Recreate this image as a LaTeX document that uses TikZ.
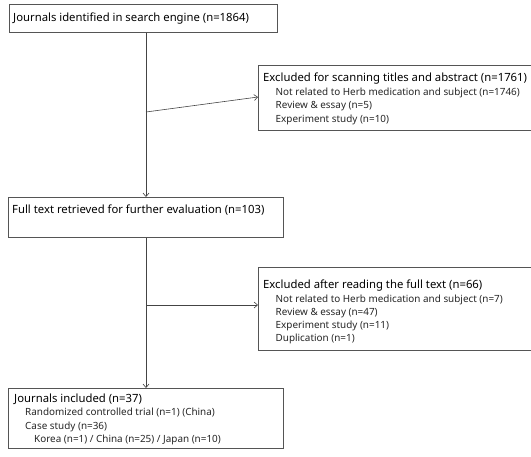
\documentclass[tikz,border=0pt]{standalone}
\usepackage{fontspec}
\setmainfont{Noto Sans}
\usetikzlibrary{arrows.meta}
\definecolor{linec}{HTML}{444444}
\definecolor{boxc}{HTML}{555555}
\begin{document}
\begin{tikzpicture}[x=1pt,y=1pt,
  box/.style={draw=boxc,line width=0.8pt,rectangle,inner sep=0pt,anchor=north west},
  ttl/.style={anchor=base west,inner sep=0pt,font=\fontsize{11.3}{14}\selectfont,text=black},
  sub/.style={anchor=base west,inner sep=0pt,font=\fontsize{9.9}{12}\selectfont,text=black!85},
  conn/.style={draw=linec,line width=0.6pt},
  arr/.style={conn,-{Straight Barb[length=3.5pt,width=6pt]}}]
\useasboundingbox (0,0) rectangle (531,-456);
\begin{scope}
\clip (0,0) rectangle (531,-456);
% boxes
\node[box,minimum width=268,minimum height=28] (b1) at (9,-4) {};
\node[box,minimum width=290,minimum height=65] (b2) at (258,-65) {};
\node[box,minimum width=275,minimum height=40] (b3) at (8,-197) {};
\node[box,minimum width=290,minimum height=83] (b4) at (258,-267) {};
\node[box,minimum width=275,minimum height=60] (b5) at (8,-388) {};
\end{scope}
% texts
\node[ttl] (t1) at (13,-21.5) {Journals identified in search engine (n=1864)};
\node[ttl] (t2) at (263,-81.3) {Excluded for scanning titles and abstract (n=1761)};
\node[sub] (t2a) at (275.5,-95.3) {Not related to Herb medication and subject (n=1746)};
\node[sub] (t2b) at (275.5,-108.7) {Review \& essay (n=5)};
\node[sub] (t2c) at (275.5,-122) {Experiment study (n=10)};
\node[ttl] (t3) at (12,-213) {Full text retrieved for further evaluation (n=103)};
\node[ttl] (t4) at (263,-288.7) {Excluded after reading the full text (n=66)};
\node[sub] (t4a) at (275.5,-302) {Not related to Herb medication and subject (n=7)};
\node[sub] (t4b) at (275.5,-315) {Review \& essay (n=47)};
\node[sub] (t4c) at (275.5,-328) {Experiment study (n=11)};
\node[sub] (t4d) at (275.5,-341) {Duplication (n=1)};
\node[ttl] (t5) at (14,-402) {Journals included (n=37)};
\node[sub] (t5a) at (25,-415.5) {Randomized controlled trial (n=1) (China)};
\node[sub] (t5b) at (25,-429) {Case study (n=36)};
\node[sub] (t5c) at (34,-442.5) {Korea (n=1) / China (n=25) / Japan (n=10)};
% connectors
\coordinate (j1) at (146,-112);
\coordinate (j2) at (146,-305);
\draw[arr] (b1.south -| j1) -- (b3.north -| j1);
\draw[arr] (j1) -- (b2.west |- 0,-97);
\draw[arr] (b3.south -| j2) -- (b5.north -| j2);
\draw[arr] (j2) -- (j2 -| b4.west);
\end{tikzpicture}
\end{document}
